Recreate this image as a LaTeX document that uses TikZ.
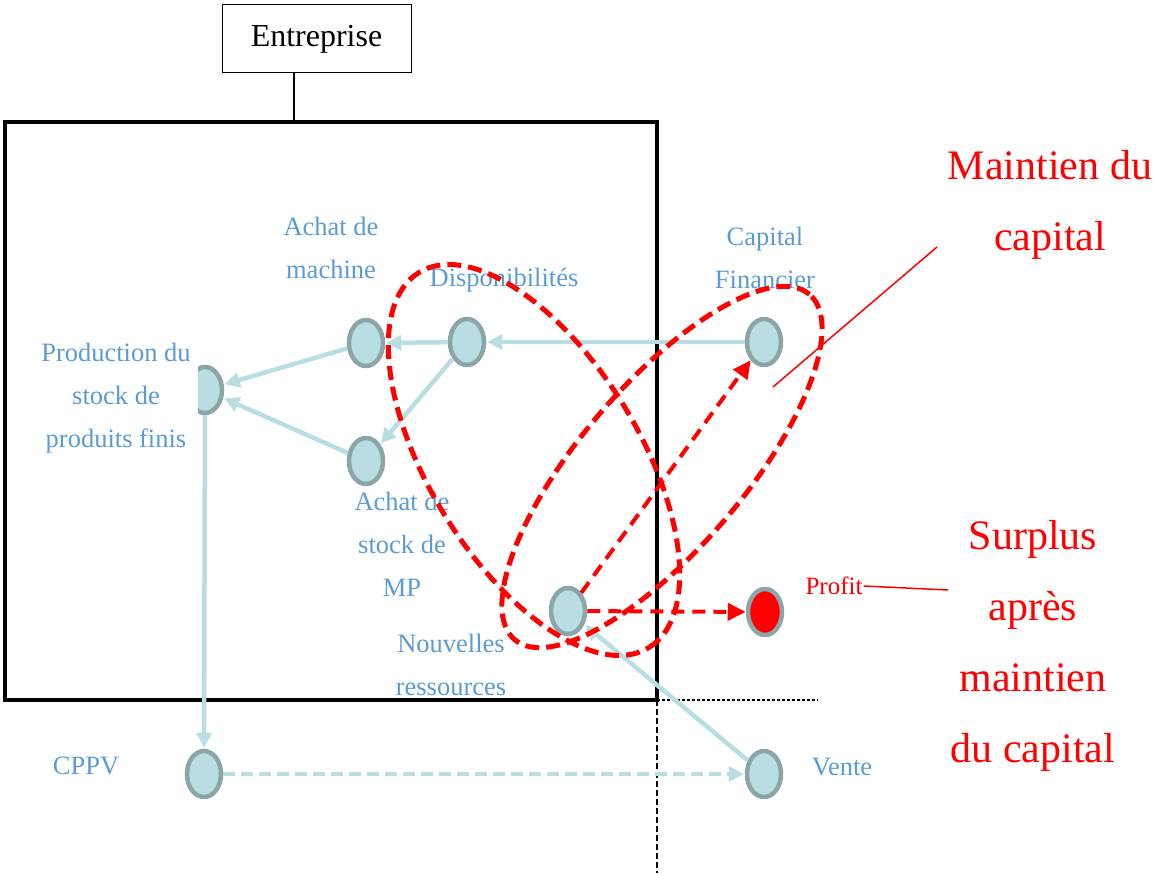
\documentclass[tikz,border=0pt]{standalone}
\usepackage{fontspec}
\setmainfont{Liberation Serif}
\usetikzlibrary{arrows.meta,shapes.geometric}
\definecolor{lcyan}{HTML}{B8DEE2}
\definecolor{ngray}{HTML}{8CA5A8}
\definecolor{tblue}{HTML}{5B9BD5}
\definecolor{rred}{HTML}{FF0000}
\tikzset{
  dot/.style={ellipse,draw=ngray,line width=4.5pt,fill=lcyan,minimum width=34pt,minimum height=46pt,inner sep=0pt},
  reddot/.style={dot,fill=rred},
  carrow/.style={draw=lcyan,line width=4.5pt,-{Triangle[length=15pt,width=15pt]},shorten >=1pt},
  cdash/.style={carrow,dash pattern=on 12pt off 6pt},
  rarrow/.style={draw=rred,line width=4pt,dash pattern=on 13pt off 8pt,-{Triangle[length=18pt,width=17pt]}},
  rloop/.style={draw=rred,line width=5pt,dash pattern=on 14pt off 7pt},
  btxt/.style={text=tblue,font=\fontsize{26.5}{43}\selectfont,align=center,inner sep=1pt},
  rtxt/.style={text=rred,font=\fontsize{42}{71}\selectfont,align=center,inner sep=0pt},
}
\begin{document}
\begin{tikzpicture}[x=1pt,y=1pt]
\useasboundingbox (0,0) rectangle (1153,873);
% Entreprise
\node[draw,line width=1pt,minimum width=189pt,minimum height=68pt,font=\fontsize{32}{36}\selectfont] (ent) at (316.5,834) {Entreprise};
\draw[line width=4.5pt] (5,751) rectangle (657,173);
\coordinate (etop) at (294,751);
\draw[line width=2pt] (ent.south -| etop) -- (etop);
% dashed separators
\coordinate (corner) at (657,173);
\coordinate (vbot) at (657,0);
\coordinate (hend) at (818,173);
\draw[line width=1.5pt,dash pattern=on 6pt off 3pt] (corner) -- (vbot);
\draw[line width=1.5pt,dash pattern=on 3pt off 2pt] (corner) -- (hend);
% nodes
\node[dot] (mach) at (366,530) {};
\node[dot] (disp) at (467,531) {};
\node[dot] (capf) at (764,531) {};
\node[dot] (prod) at (205,483) {};
\node[dot] (mp) at (366,412) {};
\node[dot] (nr) at (568,262) {};
\node[reddot] (prof) at (765,261) {};
\node[dot] (cppv) at (204,99) {};
\node[dot] (vente) at (764,99) {};
% texts
\node[btxt,fill=white,inner xsep=7pt] (tprod) at (116,475) {Production du\\stock de\\produits finis};
\node[btxt] (tmach) at (331,625) {Achat de\\machine};
\node[btxt] (tdisp) at (504,593) {Disponibilités};
\node[btxt] (tcapf) at (765,615) {Capital\\Financier};
\node[btxt] (tmp) at (402,329) {Achat de\\stock de\\MP};
\node[btxt] (tnr) at (451,208) {Nouvelles\\ressources};
\node[btxt] (tcppv) at (86,107) {CPPV};
\node[btxt] (tvente) at (842,106) {Vente};
\node[text=rred,font=\fontsize{25}{28}\selectfont,inner sep=1pt] (tprof) at (834,287) {Profit};
\node[rtxt] (tmaint) at (1050,668) {Maintien du\\capital};
\node[rtxt] (tsurp) at (1033,227) {Surplus\\après\\maintien\\du capital};
% connectors
\draw[carrow] (mach) -- (prod);
\draw[carrow] (mp) -- (prod);
\draw[carrow] (disp) -- (mach);
\draw[carrow] (disp) -- (mp);
\draw[carrow] (capf) -- (disp);
\draw[carrow] (prod) -- (cppv);
\draw[cdash] (cppv) -- (vente);
\draw[carrow] (vente) -- (nr);
\draw[rarrow] (nr) -- (capf);
\draw[rarrow] (nr) -- (prof);
% red loops
\coordinate (c1) at (534,413);
\coordinate (c2) at (662,406);
\draw[rloop,rotate around={-58.5:(c1)}] (c1) ellipse (220 and 105);
\draw[rloop,rotate around={49.5:(c2)}] (c2) ellipse (227 and 82);
% pointer lines
\coordinate (pm1) at (773,486);
\coordinate (pm2) at (937,626);
\draw[rred,line width=1.5pt] (pm1) -- (pm2);
\coordinate (pp2) at (948,283);
\draw[rred,line width=1.5pt] (tprof.east) -- (pp2);
\end{tikzpicture}
\end{document}
